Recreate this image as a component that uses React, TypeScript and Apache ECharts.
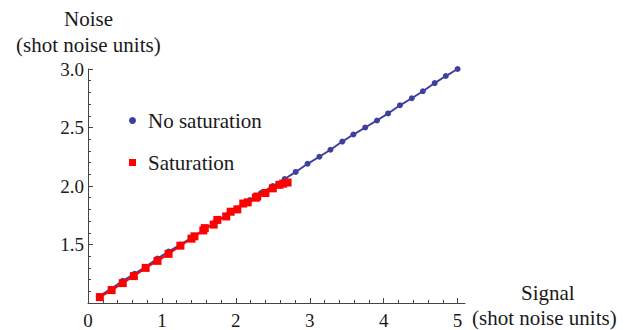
import React, { useEffect, useRef } from "react";
import * as echarts from "echarts";

const blueSignal = [0.16, 0.31, 0.47, 0.63, 0.78, 0.94, 1.09, 1.25, 1.41, 1.56, 1.72, 1.88, 2.03, 2.19, 2.34, 2.5, 2.66, 2.81, 2.97, 3.13, 3.28, 3.44, 3.59, 3.75, 3.91, 4.06, 4.22, 4.38, 4.53, 4.69, 4.84, 5.0];
const blueNoise = [1.06, 1.12, 1.19, 1.25, 1.31, 1.38, 1.44, 1.5, 1.56, 1.62, 1.69, 1.75, 1.81, 1.88, 1.94, 2.0, 2.06, 2.12, 2.19, 2.25, 2.31, 2.38, 2.44, 2.5, 2.56, 2.62, 2.69, 2.75, 2.81, 2.88, 2.94, 3.0];

const redSignal = [0.16, 0.32, 0.47, 0.62, 0.78, 0.94, 1.09, 1.25, 1.4, 1.44, 1.56, 1.58, 1.7, 1.75, 1.87, 1.93, 2.02, 2.1, 2.16, 2.27, 2.29, 2.4, 2.5, 2.59, 2.64, 2.7];
const redNoise = [1.05, 1.11, 1.17, 1.23, 1.3, 1.36, 1.42, 1.49, 1.55, 1.57, 1.62, 1.64, 1.67, 1.71, 1.74, 1.78, 1.8, 1.85, 1.86, 1.9, 1.91, 1.94, 1.98, 2.01, 2.02, 2.03];

const xMajorTicks = [0, 1, 2, 3, 4, 5];
const xMinorTicks = [0.2, 0.4, 0.6, 0.8, 1.2, 1.4, 1.6, 1.8, 2.2, 2.4, 2.6, 2.8, 3.2, 3.4, 3.6, 3.8, 4.2, 4.4, 4.6, 4.8];

const seriesNames = ["No saturation", "Saturation"];

const FONT = "Liberation Serif";
const BLUE = "#3f3f9e";
const RED = "#ff0000";
const AXIS = "#444444";

export default function App() {
  const ref = useRef<HTMLDivElement>(null);
  useEffect(() => {
    if (!ref.current) return;
    const chart = echarts.init(ref.current, undefined, { renderer: "svg" });
    const textStyle = { fontFamily: FONT, fontSize: 21, fill: "#1a1a1a" };
    chart.setOption({
      animation: false,
      backgroundColor: "#ffffff",
      textStyle: { fontFamily: FONT },
      grid: { left: 88, right: 167, top: 69, bottom: 26, containLabel: false },
      legend: {
        orient: "vertical",
        left: 124,
        top: 105,
        itemGap: 21,
        itemWidth: 7,
        itemHeight: 7,
        textStyle: { fontFamily: FONT, fontSize: 21, color: "#1a1a1a", padding: [0, 0, 0, 7] },
        data: [
          { name: seriesNames[0], icon: "circle", itemStyle: { color: BLUE } },
          { name: seriesNames[1], icon: "rect", itemStyle: { color: RED } },
        ],
      },
      xAxis: [
        {
          type: "value",
          min: 0,
          max: 5.1,
          axisLine: { show: true, lineStyle: { color: AXIS, width: 1 } },
          axisTick: { show: true, inside: true, length: 5, customValues: xMajorTicks, lineStyle: { color: AXIS } },
          axisLabel: { show: true, customValues: xMajorTicks, margin: 8, fontFamily: FONT, fontSize: 19, color: "#1a1a1a" },
          splitLine: { show: false },
        },
        {
          type: "value",
          min: 0,
          max: 5.1,
          position: "bottom",
          axisLine: { show: false },
          axisTick: { show: true, inside: true, length: 3, customValues: xMinorTicks, lineStyle: { color: AXIS } },
          axisLabel: { show: false },
          splitLine: { show: false },
        },
      ],
      yAxis: {
        type: "value",
        min: 1,
        max: 3,
        interval: 0.5,
        axisLine: { show: true, lineStyle: { color: AXIS, width: 1 } },
        axisTick: { show: true, inside: true, length: 5, lineStyle: { color: AXIS } },
        minorTick: { show: true, splitNumber: 5, length: 3, lineStyle: { color: AXIS } },
        axisLabel: {
          showMinLabel: false,
          margin: 4,
          fontFamily: FONT,
          fontSize: 19,
          color: "#1a1a1a",
          formatter: (v: number) => v.toFixed(1),
        },
        splitLine: { show: false },
      },
      series: [
        {
          name: seriesNames[0],
          type: "line",
          xAxisIndex: 0,
          data: blueSignal.map((x, i) => [x, blueNoise[i]]),
          symbol: "circle",
          symbolSize: 6,
          showSymbol: true,
          itemStyle: { color: BLUE },
          lineStyle: { color: BLUE, width: 2 },
          z: 2,
        },
        {
          name: seriesNames[1],
          type: "line",
          xAxisIndex: 0,
          data: redSignal.map((x, i) => [x, redNoise[i]]),
          symbol: "rect",
          symbolSize: 8,
          showSymbol: true,
          itemStyle: { color: RED },
          lineStyle: { color: RED, width: 2 },
          z: 3,
        },
      ],
      graphic: [
        { type: "text", left: 64, top: 8, style: { ...textStyle, text: "Noise" } },
        { type: "text", left: 16, top: 34, style: { ...textStyle, text: "(shot noise units)" } },
        { type: "text", left: 521, top: 282, style: { ...textStyle, text: "Signal" } },
        { type: "text", left: 472, top: 307, style: { ...textStyle, text: "(shot noise units)" } },
      ],
    });
    return () => chart.dispose();
  }, []);
  return (
    <div
      ref={ref}
      style={{ position: "fixed", left: 0, top: 0, width: 632, height: 330 }}
    />
  );
}
